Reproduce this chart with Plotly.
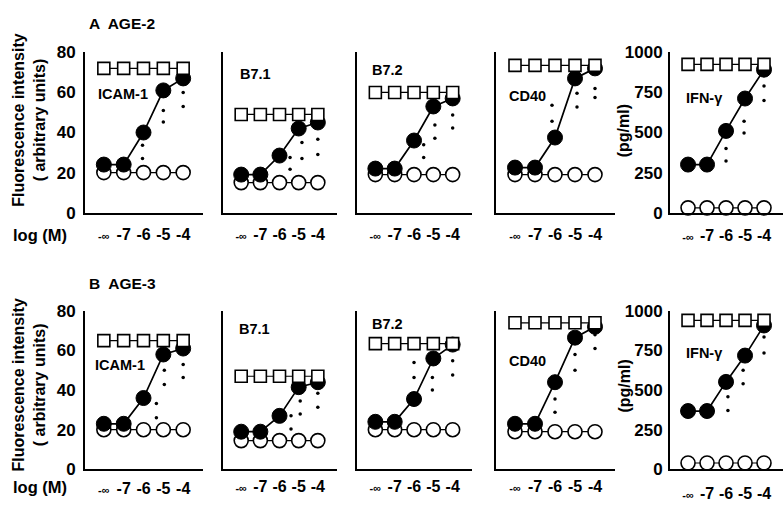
import plotly.graph_objects as go

# ---- data -------------------------------------------------------------
conc_labels = ["-∞", "-7", "-6", "-5", "-4"]
conc_pos = [0, 1, 2, 3, 4]

markers = ["ICAM-1", "B7.1", "B7.2", "CD40", "IFN-γ"]

# AGE-2 (row A)
a_square = [72, 49, 60, 73.5, 925]
a_filled = [
    [24, 24, 40, 61, 67],
    [19, 19, 28.5, 42, 45],
    [22, 22, 36, 53, 57],
    [22.5, 22.5, 37.5, 67, 72],
    [300, 300, 510, 712, 892],
]
a_open = [20, 15, 19, 19, 30]
a_sig_x = [
    [1.95, 1.95, 3, 3, 4, 4],
    [2.55, 2.55, 3.17, 3.17, 4, 4],
    [2.5, 2.5, 3.08, 3.08, 4, 4],
    [1.85, 1.85, 3.1, 3.1, 4, 4],
    [2, 2, 2.95, 2.95, 4, 4],
]
a_sig_y = [
    [33.7, 27, 51, 45.3, 60, 53],
    [27.5, 21.7, 35, 27, 36.6, 29],
    [33.9, 27.5, 43.7, 37.1, 48.7, 42.3],
    [53.6, 45.6, 59.6, 52.7, 62, 57.5],
    [401, 323, 571, 497, 790, 700],
]

# AGE-3 (row B)
b_square = [65, 47, 63.5, 74, 940]
b_filled = [
    [23, 23, 36, 58, 61],
    [19, 19, 27, 41.5, 44],
    [24, 24, 35.5, 56, 63],
    [23, 23, 44, 66.5, 72],
    [368, 368, 552, 718, 908],
]
b_open = [20, 14.5, 20, 19, 40]
b_sig_x = [
    [2.65, 2.65, 3.05, 3.05, 4, 4],
    [2.6, 2.6, 3.08, 3.08, 4, 4],
    [2, 2, 2.95, 2.95, 4, 4],
    [2, 2, 3, 3, 4, 4],
    [2.1, 2.1, 2.9, 2.9, 4, 4],
]
b_sig_y = [
    [33.2, 26, 50, 42.9, 52.9, 46.4],
    [27, 20.4, 34.5, 28, 38.4, 31.3],
    [54, 46.4, 46.4, 40, 54.8, 47.6],
    [35.5, 28.8, 58, 50, 68, 61],
    [458, 372, 626, 540, 836, 734],
]

fluor_ticks = [0, 20, 40, 60, 80]
ifn_ticks = [0, 250, 500, 750, 1000]

# ---- layout helpers ---------------------------------------------------
W, H = 784, 514
FONT = "Liberation Sans, Arial, sans-serif"


def px(x):
    return x / W


def py(y):
    return 1 - y / H


# panel left/right edges in pixels
col_edges = [(85, 203), (223, 337), (357, 472), (496, 615), (670, 783)]
# row top/bottom in pixels
row_edges = [(45, 211.5), (313.5, 478)]
# x tick label standoff per row / panel
xstand = [[6, 6, 6, 6, 7], [3, 1, 1, 1, 8]]

fig = go.Figure()
layout = {}

rows = [
    (a_square, a_filled, a_open, a_sig_x, a_sig_y),
    (b_square, b_filled, b_open, b_sig_x, b_sig_y),
]

for r, (sq, fl, op, sx, sy) in enumerate(rows):
    for c in range(5):
        idx = r * 5 + c + 1
        xa = "x" if idx == 1 else f"x{idx}"
        ya = "y" if idx == 1 else f"y{idx}"
        is_ifn = c == 4
        ymax = 1000 if is_ifn else 80

        # open circles
        fig.add_trace(go.Scatter(
            x=conc_pos, y=[op[c]] * 5, xaxis=xa, yaxis=ya, mode="lines+markers",
            line=dict(color="black", width=1.2),
            marker=dict(symbol="circle", size=14, color="white",
                        line=dict(color="black", width=1.6)),
            showlegend=False, hoverinfo="skip", cliponaxis=False))
        # filled circles
        fig.add_trace(go.Scatter(
            x=conc_pos, y=fl[c], xaxis=xa, yaxis=ya, mode="lines+markers",
            line=dict(color="black", width=1.7),
            marker=dict(symbol="circle", size=15, color="black",
                        line=dict(color="black", width=1)),
            showlegend=False, hoverinfo="skip", cliponaxis=False))
        # squares
        fig.add_trace(go.Scatter(
            x=conc_pos, y=[sq[c]] * 5, xaxis=xa, yaxis=ya, mode="lines+markers",
            line=dict(color="black", width=1.2),
            marker=dict(symbol="square", size=12, color="white",
                        line=dict(color="black", width=1.6)),
            showlegend=False, hoverinfo="skip", cliponaxis=False))
        # significance marks
        fig.add_trace(go.Scatter(
            x=sx[c], y=sy[c], xaxis=xa, yaxis=ya, mode="markers",
            marker=dict(symbol="circle", size=3.5, color="black"),
            showlegend=False, hoverinfo="skip"))

        x0, x1 = col_edges[c]
        yt, yb = row_edges[r]
        show_y = c == 0 or is_ifn
        tick_font = dict(family=FONT, size=16, color="black", weight="bold")
        layout["xaxis" if idx == 1 else f"xaxis{idx}"] = dict(
            domain=[px(x0), px(x1)], anchor=ya, range=[-0.95, 5.0],
            tickmode="array", tickvals=conc_pos,
            ticktext=["<span style='font-size:11px'>-∞</span>"] + conc_labels[1:],
            ticks="", showgrid=False, zeroline=False,
            showline=True, linecolor="black", linewidth=2,
            ticklabelstandoff=xstand[r][c], tickfont=tick_font)
        layout["yaxis" if idx == 1 else f"yaxis{idx}"] = dict(
            domain=[py(yb), py(yt)], anchor=xa, range=[0, ymax],
            tickmode="array", tickvals=ifn_ticks if is_ifn else fluor_ticks,
            showticklabels=show_y, ticks="", showgrid=False, zeroline=False,
            showline=True, linecolor="black", linewidth=2,
            ticklabelstandoff=4 if c == 0 else 2,
            tickfont=dict(family=FONT, size=17, color="black", weight="bold"))

# ---- text -------------------------------------------------------------
ann = []


def text(s, x, y, size=14, xanchor="left", angle=0):
    ann.append(dict(text=s, x=px(x), y=py(y), xref="paper", yref="paper",
                    xanchor=xanchor, yanchor="middle", showarrow=False,
                    textangle=angle,
                    font=dict(family=FONT, size=size, color="black",
                              weight="bold")))


text("A  AGE-2", 87, 15, 15.5)
text("B  AGE-3", 87, 285, 15.5)

for yc in (116, 391):
    text("Fluorescence intensity<br>( arbitrary units)", 29, yc, 16,
         xanchor="center", angle=-90)
text("(pg/ml)", 623, 127, 16, xanchor="center", angle=-90)
text("(pg/ml)", 625, 392, 16, xanchor="center", angle=-90)

text("log (M)", 40, 235, 16.5, xanchor="center")
text("log (M)", 40, 496, 16.5, xanchor="center")

label_pos = [
    [(96, 88), (238, 67), (370, 63), (507, 90), (684, 92)],
    [(93, 370), (237, 332), (370, 327), (507, 365), (684, 357)],
]
for r in range(2):
    for c in range(5):
        text(markers[c], label_pos[r][c][0], label_pos[r][c][1], 14.5)

fig.update_layout(
    width=W, height=H, margin=dict(l=0, r=0, t=0, b=0),
    paper_bgcolor="white", plot_bgcolor="white",
    annotations=ann, **layout)

fig.write_html("out.html")
